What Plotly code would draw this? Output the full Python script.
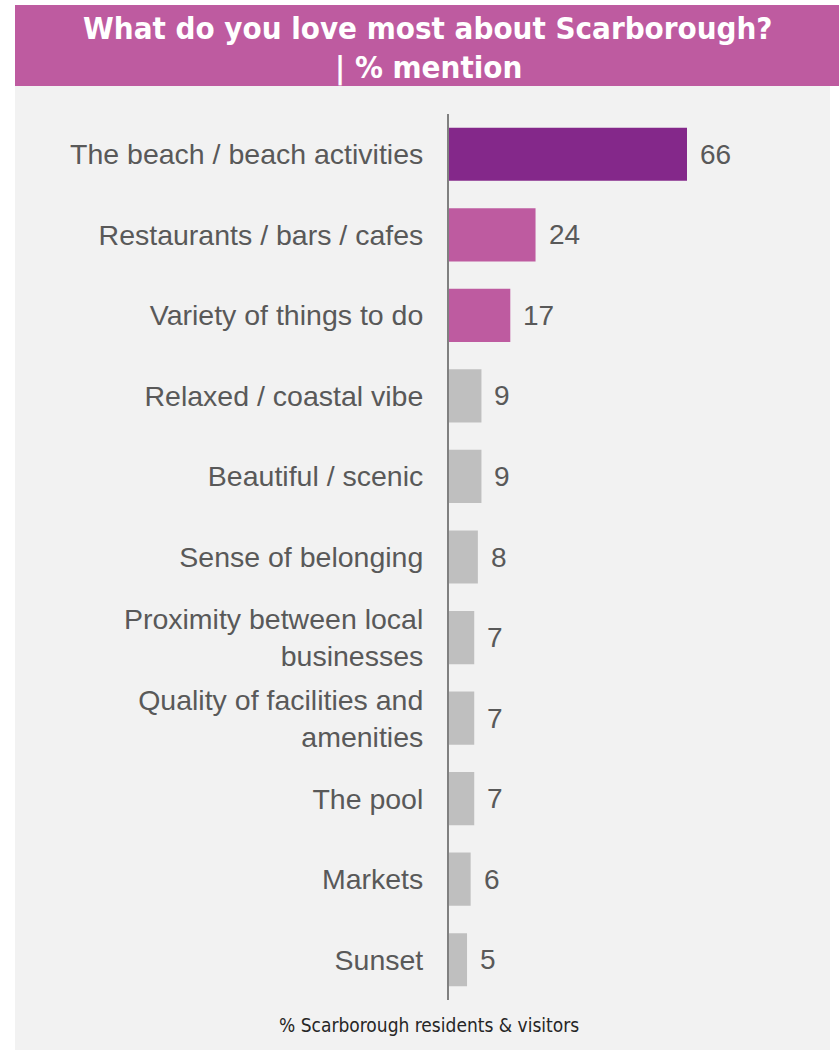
import plotly.graph_objects as go

categories = [
    "The beach / beach activities",
    "Restaurants / bars / cafes",
    "Variety of things to do",
    "Relaxed / coastal vibe",
    "Beautiful / scenic",
    "Sense of belonging",
    "Proximity between local<br>businesses",
    "Quality of facilities and<br>amenities",
    "The pool",
    "Markets",
    "Sunset",
]
values = [66, 24, 17, 9, 9, 8, 7, 7, 7, 6, 5]
bar_colors = ["#84288A", "#BE5BA0", "#BE5BA0"] + ["#BFBFBF"] * 8

title_lines = ["What do you love most about Scarborough?", "| % mention"]
footer_text = "% Scarborough residents & visitors"

W, H = 839, 1054
ML, MR, MT, MB = 449, 30, 114, 54
plot_w = W - ML - MR
plot_h = H - MT - MB


def px(x):
    return (x - ML) / plot_w


def py(y):
    return (H - MB - y) / plot_h


fig = go.Figure(
    go.Bar(
        x=values,
        y=categories,
        orientation="h",
        marker=dict(color=bar_colors, line=dict(width=0)),
        hoverinfo="skip",
    )
)

# value labels just beyond each bar end
for c, v in zip(categories, values):
    fig.add_annotation(
        x=v, y=c, xref="x", yref="y", text=str(v), showarrow=False,
        xanchor="left", yanchor="middle", xshift=11,
        font=dict(family="Liberation Sans, Arial, sans-serif", size=28, color="#595959"),
    )

# grey panel and magenta title banner
fig.add_shape(type="rect", xref="paper", yref="paper", layer="below",
              x0=px(15), x1=px(830), y0=py(1050), y1=py(85),
              fillcolor="#F2F2F2", line=dict(width=0))
fig.add_shape(type="rect", xref="paper", yref="paper", layer="below",
              x0=px(15), x1=px(839), y0=py(86), y1=py(5),
              fillcolor="#BE5BA0", line=dict(width=0))

title_font = dict(family="DejaVu Sans Condensed, sans-serif", size=31,
                  color="white", weight="bold")
for line, yc in zip(title_lines, [28, 67]):
    fig.add_annotation(
        x=px(428), y=py(yc), xref="paper", yref="paper", text=line,
        showarrow=False, xanchor="center", yanchor="middle",
        font=title_font,
    )
fig.add_annotation(
    x=px(429), y=py(1025), xref="paper", yref="paper", text=footer_text,
    showarrow=False, xanchor="center", yanchor="middle",
    font=dict(family="DejaVu Sans Condensed, sans-serif", size=19, color="#262626"),
)

fig.update_layout(
    width=W, height=H,
    margin=dict(l=ML, r=MR, t=MT, b=MB, pad=0),
    paper_bgcolor="white",
    plot_bgcolor="rgba(0,0,0,0)",
    bargap=0.34,
    showlegend=False,
    xaxis=dict(range=[0, plot_w / 3.606], showticklabels=False, showgrid=False,
               zeroline=False, showline=False, ticks=""),
    yaxis=dict(
        categoryorder="array", categoryarray=categories,
        range=[len(categories) - 0.5, -0.5],
        showgrid=False, zeroline=False,
        showline=True, linecolor="#808080", linewidth=2,
        ticks="", ticklabelstandoff=18,
        tickfont=dict(family="Liberation Sans, Arial, sans-serif", size=28.5, color="#595959"),
    ),
)

fig.write_html("out.html")
